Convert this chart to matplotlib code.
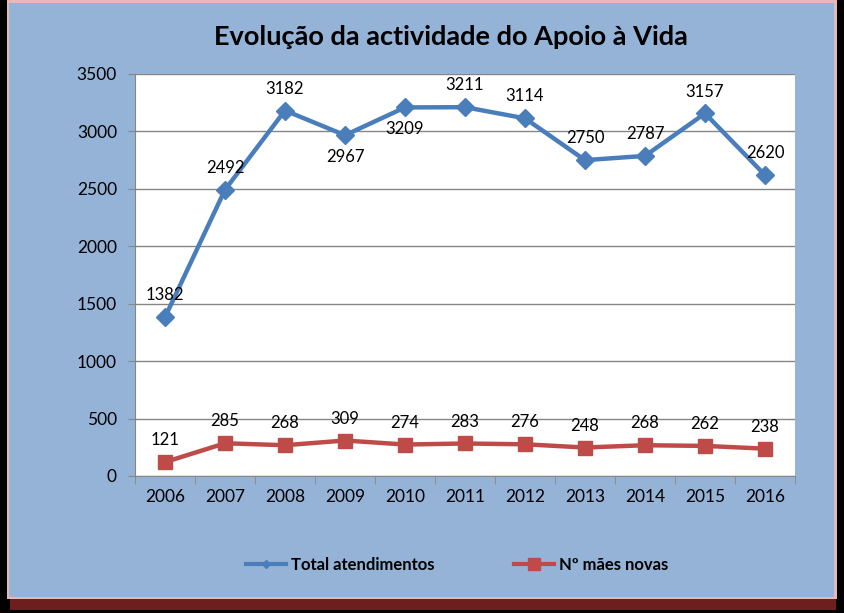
import matplotlib
matplotlib.use("Agg")
import matplotlib.pyplot as plt
from matplotlib.patches import Rectangle
from matplotlib.lines import Line2D

years = ["2006", "2007", "2008", "2009", "2010", "2011", "2012", "2013", "2014", "2015", "2016"]
total = [1382, 2492, 3182, 2967, 3209, 3211, 3114, 2750, 2787, 3157, 2620]
maes = [121, 285, 268, 309, 274, 283, 276, 248, 268, 262, 238]
total_label_pos = ["above", "above", "above", "below", "below", "above", "above", "above", "above", "above", "above"]
yticks = [0, 500, 1000, 1500, 2000, 2500, 3000, 3500]
title = "Evolução da actividade do Apoio à Vida"
series_names = ["Total atendimentos", "Nº mães novas"]

plt.rcParams['font.family'] = ['Lato', 'DejaVu Sans']

W, H = 844, 613
fig = plt.figure(figsize=(W / 100, H / 100), dpi=100)
fig.patch.set_facecolor("black")

# shadow and panel
fig.patches.append(Rectangle((10 / W, 1 - 610 / H), 826 / W, 20 / H, transform=fig.transFigure,
                             facecolor="#6e1f1d", edgecolor="none", zorder=-3))
fig.patches.append(Rectangle((7 / W, 1 - 599 / H), 830 / W, 599 / H, transform=fig.transFigure,
                             facecolor="#e6b9b8", edgecolor="none", zorder=-2))
fig.patches.append(Rectangle((9 / W, 1 - 597 / H), 825 / W, 594 / H, transform=fig.transFigure,
                             facecolor="#95b3d7", edgecolor="none", zorder=-1))

ax = fig.add_axes([135 / W, 1 - 476 / H, 660 / W, 402 / H])
ax.set_zorder(1)
ax.set_facecolor("white")
x = list(range(len(years)))
blue = "#4a7ebb"
red = "#be4b48"
ax.plot(x, total, color=blue, lw=3.2, marker="D", ms=9, mfc=blue, mec=blue, zorder=3)
ax.plot(x, maes, color=red, lw=3.2, marker="s", ms=10, mfc=red, mec=red, zorder=3)

for i, v in enumerate(total):
    if total_label_pos[i] == "above":
        ax.annotate(str(v), (i, v), xytext=(0, 10), textcoords="offset points", ha="center", va="bottom", fontsize=12)
    else:
        ax.annotate(str(v), (i, v), xytext=(0, -10), textcoords="offset points", ha="center", va="top", fontsize=12)
for i, v in enumerate(maes):
    ax.annotate(str(v), (i, v), xytext=(0, 10), textcoords="offset points", ha="center", va="bottom", fontsize=12)

ax.set_xlim(-0.5, len(years) - 0.5)
ax.set_ylim(0, 3500)
ax.set_yticks(yticks)
ax.set_yticklabels([str(t) for t in yticks], fontsize=12.5)
ax.set_xticks(x)
ax.set_xticklabels(years, fontsize=12.5)
ax.tick_params(axis="x", length=0, pad=9)
ax.set_xticks([i - 0.5 for i in range(len(years) + 1)], minor=True)
ax.tick_params(axis="x", which="minor", length=6, color="#868686", direction="out")
ax.tick_params(axis="y", length=5, color="#868686", direction="out", pad=8)
ax.grid(axis="y", color="#868686", lw=1)
ax.set_axisbelow(True)
for s in ["top", "right"]:
    ax.spines[s].set_visible(False)
for s in ["left", "bottom"]:
    ax.spines[s].set_color("#868686")

fig.text(451 / W, 1 - 37 / H, title, ha="center", va="center", fontsize=19.5, fontweight="bold", color="black")

handles = [Line2D([], [], color=blue, lw=3, marker="D", ms=4),
           Line2D([], [], color=red, lw=3, marker="s", ms=8)]
fig.legend(handles, series_names, loc="center", bbox_to_anchor=(457 / W, 1 - 565 / H), ncol=2,
           frameon=False, columnspacing=4.8, handlelength=2.4, handletextpad=0.3,
           prop={"weight": "bold", "size": 12})

fig.savefig("out.png", dpi=100, facecolor=fig.get_facecolor())
